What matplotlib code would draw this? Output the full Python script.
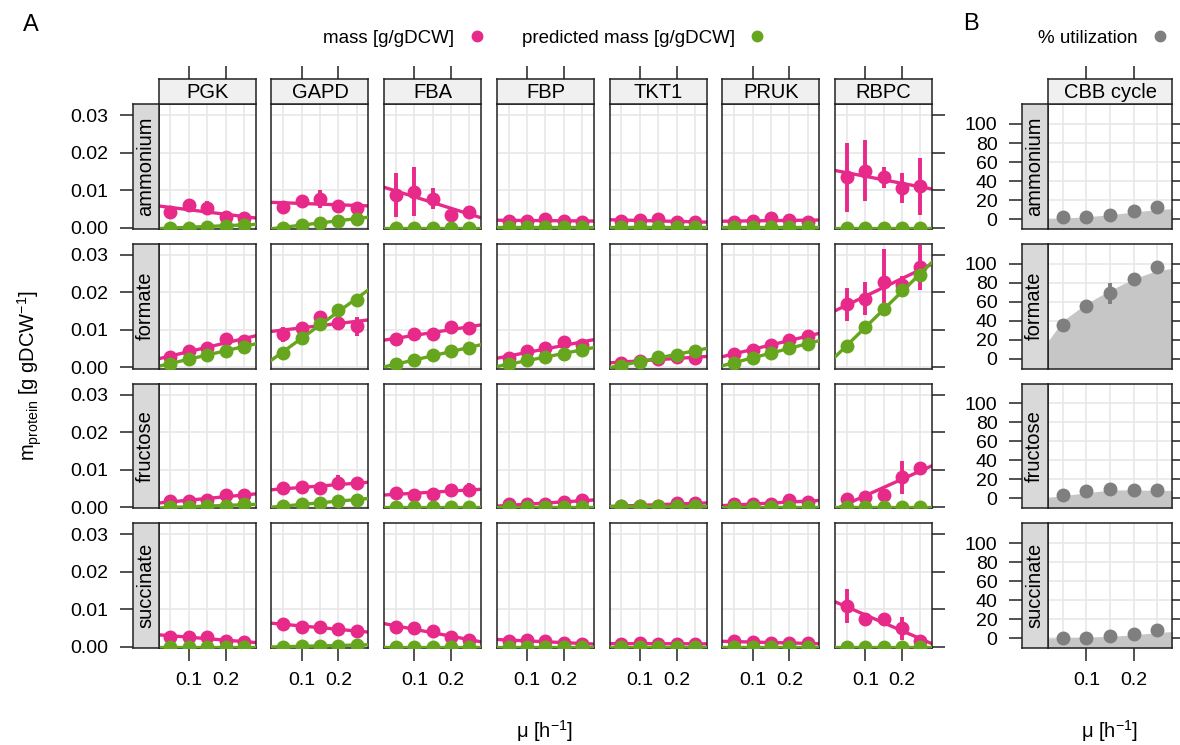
import numpy as np
import matplotlib.pyplot as plt
from matplotlib.lines import Line2D

plt.rcParams['font.family'] = ['Liberation Sans', 'DejaVu Sans']
plt.rcParams['mathtext.fontset'] = 'custom'
plt.rcParams['mathtext.rm'] = 'Liberation Sans'
plt.rcParams['mathtext.it'] = 'Liberation Sans:italic'

# growth rates
mu = [0.05, 0.10, 0.15, 0.20, 0.25]
enzymes = ['PGK', 'GAPD', 'FBA', 'FBP', 'TKT1', 'PRUK', 'RBPC']
sources = ['ammonium', 'formate', 'fructose', 'succinate']

# measured mass [g/gDCW], one row per enzyme
mass_ammonium = [
    [0.0041, 0.0060, 0.0053, 0.0029, 0.0026],
    [0.0056, 0.0070, 0.0077, 0.0058, 0.0053],
    [0.0087, 0.0096, 0.0077, 0.0034, 0.0041],
    [0.0018, 0.0018, 0.0024, 0.0018, 0.0016],
    [0.0018, 0.0020, 0.0022, 0.0016, 0.0014],
    [0.0014, 0.0018, 0.0026, 0.0020, 0.0016],
    [0.0135, 0.0152, 0.0134, 0.0106, 0.0111],
]
err_ammonium = [
    [0.0005, 0.0010, 0.0018, 0.0005, 0.0004],
    [0.0004, 0.0015, 0.0024, 0.0015, 0.0006],
    [0.0058, 0.0065, 0.0028, 0.0008, 0.0006],
    [0.0003, 0.0003, 0.0004, 0.0003, 0.0003],
    [0.0003, 0.0003, 0.0003, 0.0003, 0.0003],
    [0.0003, 0.0003, 0.0005, 0.0003, 0.0003],
    [0.0092, 0.0082, 0.0027, 0.0040, 0.0076],
]
pred_ammonium = [
    [0.0000, 0.0000, 0.0003, 0.0005, 0.0008],
    [0.0000, 0.0008, 0.0013, 0.0018, 0.0024],
    [0.0000, 0.0000, 0.0000, 0.0000, 0.0000],
    [0.0001, 0.0001, 0.0001, 0.0001, 0.0001],
    [0.0001, 0.0001, 0.0001, 0.0001, 0.0001],
    [0.0001, 0.0001, 0.0001, 0.0001, 0.0001],
    [0.0000, 0.0000, 0.0000, 0.0000, 0.0000],
]

mass_formate = [
    [0.0028, 0.0043, 0.0052, 0.0075, 0.0070],
    [0.0088, 0.0105, 0.0134, 0.0119, 0.0110],
    [0.0075, 0.0090, 0.0088, 0.0107, 0.0105],
    [0.0024, 0.0044, 0.0051, 0.0068, 0.0059],
    [0.0013, 0.0017, 0.0022, 0.0027, 0.0024],
    [0.0037, 0.0047, 0.0059, 0.0073, 0.0083],
    [0.0168, 0.0183, 0.0228, 0.0221, 0.0267],
]
err_formate = [
    [0.0004, 0.0005, 0.0005, 0.0012, 0.0008],
    [0.0020, 0.0010, 0.0015, 0.0020, 0.0025],
    [0.0008, 0.0015, 0.0008, 0.0015, 0.0015],
    [0.0004, 0.0005, 0.0005, 0.0015, 0.0008],
    [0.0004, 0.0004, 0.0004, 0.0004, 0.0004],
    [0.0005, 0.0005, 0.0010, 0.0010, 0.0012],
    [0.0044, 0.0044, 0.0087, 0.0022, 0.0060],
]
pred_formate = [
    [0.0010, 0.0022, 0.0033, 0.0045, 0.0055],
    [0.0039, 0.0079, 0.0115, 0.0152, 0.0180],
    [0.0008, 0.0019, 0.0032, 0.0045, 0.0051],
    [0.0008, 0.0019, 0.0027, 0.0037, 0.0047],
    [0.0005, 0.0015, 0.0027, 0.0034, 0.0044],
    [0.0013, 0.0024, 0.0039, 0.0051, 0.0063],
    [0.0056, 0.0108, 0.0156, 0.0207, 0.0246],
]

mass_fructose = [
    [0.0017, 0.0015, 0.0019, 0.0033, 0.0031],
    [0.0050, 0.0053, 0.0050, 0.0065, 0.0063],
    [0.0038, 0.0033, 0.0036, 0.0046, 0.0046],
    [0.0007, 0.0007, 0.0007, 0.0014, 0.0019],
    [0.0004, 0.0004, 0.0004, 0.0010, 0.0010],
    [0.0007, 0.0007, 0.0007, 0.0019, 0.0014],
    [0.0021, 0.0026, 0.0031, 0.0080, 0.0104],
]
err_fructose = [
    [0.0003, 0.0003, 0.0003, 0.0007, 0.0005],
    [0.0005, 0.0005, 0.0005, 0.0020, 0.0015],
    [0.0005, 0.0004, 0.0005, 0.0015, 0.0018],
    [0.0003, 0.0003, 0.0003, 0.0003, 0.0003],
    [0.0002, 0.0002, 0.0002, 0.0002, 0.0002],
    [0.0003, 0.0003, 0.0003, 0.0004, 0.0003],
    [0.0005, 0.0005, 0.0008, 0.0044, 0.0010],
]
pred_fructose = [
    [0.0000, 0.0000, 0.0002, 0.0004, 0.0007],
    [0.0002, 0.0007, 0.0012, 0.0017, 0.0019],
    [0.0000, 0.0000, 0.0000, 0.0000, 0.0000],
    [0.0000, 0.0000, 0.0000, 0.0000, 0.0000],
    [0.0002, 0.0002, 0.0002, 0.0002, 0.0002],
    [0.0000, 0.0000, 0.0000, 0.0000, 0.0000],
    [0.0000, 0.0000, 0.0000, 0.0000, 0.0000],
]

mass_succinate = [
    [0.0027, 0.0027, 0.0025, 0.0016, 0.0013],
    [0.0062, 0.0052, 0.0052, 0.0047, 0.0042],
    [0.0052, 0.0049, 0.0042, 0.0027, 0.0017],
    [0.0016, 0.0017, 0.0016, 0.0010, 0.0008],
    [0.0008, 0.0009, 0.0008, 0.0008, 0.0008],
    [0.0015, 0.0012, 0.0010, 0.0010, 0.0010],
    [0.0109, 0.0073, 0.0073, 0.0049, 0.0015],
]
err_succinate = [
    [0.0003, 0.0003, 0.0003, 0.0003, 0.0003],
    [0.0004, 0.0004, 0.0004, 0.0004, 0.0004],
    [0.0004, 0.0004, 0.0004, 0.0004, 0.0004],
    [0.0003, 0.0003, 0.0003, 0.0003, 0.0003],
    [0.0002, 0.0002, 0.0002, 0.0002, 0.0002],
    [0.0003, 0.0003, 0.0003, 0.0003, 0.0003],
    [0.0045, 0.0008, 0.0010, 0.0030, 0.0005],
]
pred_succinate = [
    [0.0000, 0.0000, 0.0000, 0.0000, 0.0000],
    [0.0000, 0.0002, 0.0002, 0.0003, 0.0005],
    [0.0000, 0.0000, 0.0000, 0.0000, 0.0000],
    [0.0000, 0.0000, 0.0000, 0.0000, 0.0000],
    [0.0000, 0.0000, 0.0000, 0.0000, 0.0000],
    [0.0000, 0.0000, 0.0000, 0.0000, 0.0000],
    [0.0000, 0.0000, 0.0000, 0.0000, 0.0000],
]

# panel B: % utilization of the CBB cycle
util_ammonium = [1.8, 2.5, 4.2, 8.8, 12.3]
util_formate = [35.7, 55.0, 69.0, 84.0, 96.5]
util_fructose = [3.5, 7.7, 10.4, 9.4, 9.4]
util_succinate = [0.0, 0.3, 1.8, 3.9, 8.2]
util_err_ammonium = [1, 1, 1, 1, 1]
util_err_formate = [2, 2, 11, 3, 5]
util_err_fructose = [1, 1, 1, 1, 1]
util_err_succinate = [1, 1, 1, 1, 1]
mu_shade = [0.018, 0.05, 0.10, 0.15, 0.20, 0.25, 0.282]
shade_ammonium = [0.5, 1.0, 2.5, 4.5, 7.5, 10.0, 11.0]
shade_formate = [18, 40, 58, 72, 84, 93, 95]
shade_fructose = [1.0, 3.0, 6.0, 9.0, 9.0, 8.5, 8.5]
shade_succinate = [0.0, 0.3, 1.0, 2.0, 3.5, 6.0, 7.0]

mass = dict(zip(sources, [mass_ammonium, mass_formate, mass_fructose, mass_succinate]))
mass_err = dict(zip(sources, [err_ammonium, err_formate, err_fructose, err_succinate]))
pred = dict(zip(sources, [pred_ammonium, pred_formate, pred_fructose, pred_succinate]))
util = dict(zip(sources, [util_ammonium, util_formate, util_fructose, util_succinate]))
util_err = dict(zip(sources, [util_err_ammonium, util_err_formate, util_err_fructose, util_err_succinate]))
shade = dict(zip(sources, [shade_ammonium, shade_formate, shade_fructose, shade_succinate]))

pink = '#E7298A'
green = '#66A61E'
grey = '#7F7F7F'
gridcol = '#E6E6E6'
xlim = (0.018, 0.282)
ylimA = (-0.0003, 0.0329)
ylimB = (-10.2, 120.7)
gridx = [0.05, 0.10, 0.15, 0.20, 0.25]
ms = 9
lw_fit = 2.4
lw_err = 2.8

W, H = 1180, 745
fig = plt.figure(figsize=(W / 100, H / 100), dpi=100)


def add_px(x, y, w, h):
    return fig.add_axes([x / W, 1 - (y + h) / H, w / W, h / H])


def clean(ax):
    ax.tick_params(left=False, bottom=False, labelleft=False, labelbottom=False)
    for s in ax.spines.values():
        s.set_linewidth(1.1)
        s.set_color('#222222')


tick_kw = dict(length=9.5, width=1.1, color='#222222', labelsize=14, pad=8)

col_left = [158.7 + 112.75 * j for j in range(7)]
row_top = [104.3 + 139.7 * i for i in range(4)]
pw, ph = 97, 124.5
xfit = np.linspace(xlim[0], xlim[1], 50)

for i, src in enumerate(sources):
    for j, enz in enumerate(enzymes):
        ax = add_px(col_left[j], row_top[i], pw, ph)
        clean(ax)
        ax.set_xlim(xlim)
        ax.set_ylim(ylimA)
        for g in gridx:
            ax.axvline(g, color=gridcol, lw=1.1, zorder=0)
        for g in [0, 0.01, 0.02, 0.03]:
            ax.axhline(g, color=gridcol, lw=1.1, zorder=0)
        m = mass[src][j]
        e = mass_err[src][j]
        p = pred[src][j]
        ax.plot(xfit, np.polyval(np.polyfit(mu, m, 1), xfit), color=pink, lw=lw_fit, zorder=2)
        ax.vlines(mu, np.array(m) - np.array(e), np.array(m) + np.array(e), color=pink, lw=lw_err, zorder=3)
        ax.plot(mu, m, 'o', color=pink, ms=ms, zorder=3)
        ax.plot(xfit, np.polyval(np.polyfit(mu, p, 1), xfit), color=green, lw=lw_fit, zorder=4)
        ax.plot(mu, p, 'o', color=green, ms=ms, zorder=4)

        if j == 6:
            ax.set_yticks([0, 0.01, 0.02, 0.03])
            ax.tick_params(axis='y', right=True, labelright=False, **tick_kw)
        if i == 3:
            ax.set_xticks([0.1, 0.2])
            ax.set_xticklabels(['0.1', '0.2'])
            ax.tick_params(axis='x', bottom=True, labelbottom=True, **tick_kw)
        if i == 0:
            cs = add_px(col_left[j], 78.7, pw, 25.6)
            clean(cs)
            cs.set_facecolor('#F0F0F0')
            cs.set_xlim(xlim)
            cs.set_xticks([0.1, 0.2])
            cs.tick_params(axis='x', top=True, labeltop=False, **tick_kw)
            cs.set_yticks([])
            cs.text(0.5, 0.45, enz, transform=cs.transAxes, ha='center', va='center', fontsize=14.5)
        if j == 0:
            rs = add_px(132.7, row_top[i], 26, ph)
            clean(rs)
            rs.set_facecolor('#D9D9D9')
            rs.set_ylim(ylimA)
            rs.set_yticks([0, 0.01, 0.02, 0.03])
            rs.set_yticklabels(['0.00', '0.01', '0.02', '0.03'])
            rs.tick_params(axis='y', left=True, labelleft=True, **tick_kw)
            rs.set_xticks([])
            rs.text(0.5, 0.5, src, transform=rs.transAxes, ha='center', va='center',
                    rotation=90, fontsize=14.5)

# panel B
bl, bw = 1047.7, 124.6
for i, src in enumerate(sources):
    ax = add_px(bl, row_top[i], bw, ph)
    clean(ax)
    ax.set_xlim(xlim)
    ax.set_ylim(ylimB)
    for g in gridx:
        ax.axvline(g, color=gridcol, lw=1.1, zorder=0)
    for g in [0, 20, 40, 60, 80, 100]:
        ax.axhline(g, color=gridcol, lw=1.1, zorder=0)
    ax.fill_between(mu_shade, ylimB[0], shade[src], color='#C6C6C6', lw=0, zorder=1)
    u = np.array(util[src])
    ue = np.array(util_err[src])
    ax.vlines(mu, u - ue, u + ue, color=grey, lw=lw_err, zorder=3)
    ax.plot(mu, u, 'o', color=grey, ms=ms, zorder=3)
    ax.set_yticks([0, 20, 40, 60, 80, 100])
    ax.tick_params(axis='y', right=True, labelright=False, **tick_kw)
    if i == 3:
        ax.set_xticks([0.1, 0.2])
        ax.set_xticklabels(['0.1', '0.2'])
        ax.tick_params(axis='x', bottom=True, labelbottom=True, **tick_kw)
    if i == 0:
        cs = add_px(bl, 78.7, bw, 25.6)
        clean(cs)
        cs.set_facecolor('#F0F0F0')
        cs.set_xlim(xlim)
        cs.set_xticks([0.1, 0.2])
        cs.tick_params(axis='x', top=True, labeltop=False, **tick_kw)
        cs.set_yticks([])
        cs.text(0.5, 0.45, 'CBB cycle', transform=cs.transAxes, ha='center', va='center', fontsize=14.5)
    rs = add_px(1021.7, row_top[i], 26, ph)
    clean(rs)
    rs.set_facecolor('#D9D9D9')
    rs.set_ylim(ylimB)
    rs.set_yticks([0, 20, 40, 60, 80, 100])
    rs.tick_params(axis='y', left=True, labelleft=True, **tick_kw)
    rs.set_xticks([])
    rs.text(0.5, 0.5, src, transform=rs.transAxes, ha='center', va='center',
            rotation=90, fontsize=14.5)

# labels
fig.text(31 / W, 1 - 25 / H, 'A', ha='center', va='center', fontsize=17)
fig.text(971 / W, 1 - 24 / H, 'B', ha='center', va='center', fontsize=17)
fig.text(30 / W, 1 - 376 / H, r'm$_{\rm protein}$ [g gDCW$^{-1}$]', rotation=90,
         ha='center', va='center', fontsize=14.5)
fig.text(545 / W, 1 - 731 / H, r'μ [h$^{-1}$]', ha='center', va='center', fontsize=14.5)
fig.text(1110 / W, 1 - 731 / H, r'μ [h$^{-1}$]', ha='center', va='center', fontsize=14.5)

hA = [Line2D([], [], ls='', marker='o', color=pink, ms=7.5),
      Line2D([], [], ls='', marker='o', color=green, ms=7.5)]
fig.legend(hA, ['mass [g/gDCW]', 'predicted mass [g/gDCW]'], ncol=2, markerfirst=False,
           frameon=False, loc='center', bbox_to_anchor=(545 / W, 1 - 38 / H), fontsize=13.5,
           handlelength=1, handletextpad=0.7, columnspacing=1.9)
hB = [Line2D([], [], ls='', marker='o', color=grey, ms=7.5)]
fig.legend(hB, ['% utilization'], markerfirst=False, frameon=False, loc='center',
           bbox_to_anchor=(1104 / W, 1 - 38 / H), fontsize=13.5,
           handlelength=1, handletextpad=0.7)

fig.savefig('out.png', dpi=100)
